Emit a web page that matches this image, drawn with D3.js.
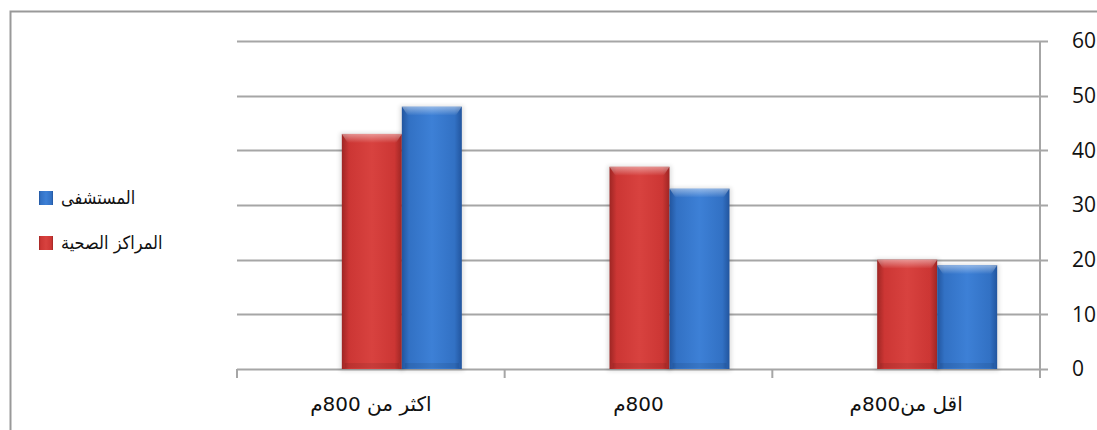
<!DOCTYPE html>
<html>
<head>
<meta charset="utf-8">
<script src="https://cdn.jsdelivr.net/npm/d3@7"></script>
<style>
  body { margin: 0; background: #fff; }
  svg { display: block; }
  .y-lbl { font-family: "Open Sans", "Liberation Sans", sans-serif; font-size: 21px; fill: #111; }
  .x-lbl { font-family: "DejaVu Sans", sans-serif; font-size: 20px; fill: #111; }
  .lg-lbl { font-family: "DejaVu Sans Condensed", "DejaVu Sans", sans-serif; font-size: 18px; fill: #111; }
</style>
</head>
<body>
<svg id="chart" width="1097" height="430"></svg>
<script>
// data
const categories = ["اكثر من 800م", "800م", "اقل من800م"];
const healthCenters = [43, 37, 20];   // المراكز الصحية (red)
const hospital = [48, 33, 19];        // المستشفى (blue)
const seriesNames = ["المراكز الصحية", "المستشفى"];
const yTicks = [0, 10, 20, 30, 40, 50, 60];

const svg = d3.select("#chart");

// all category labels read right to left
function catLabel(s){
    return "\u2067" + s + "\u2069";
}

// outer frame of the chart object
svg.append("rect")
    .attr("x", 10.5).attr("y", 11.5)
    .attr("width", 1100).attr("height", 430)
    .attr("fill", "none")
    .attr("stroke", "#999")
    .attr("stroke-width", 2);

const plot = {left: 237, right: 1040, top: 41, bottom: 369};

const x = d3.scaleBand()
    .domain(categories)
    .range([plot.left, plot.right])
    .padding(0);

const y = d3.scaleLinear()
    .domain([0, 60])
    .range([plot.bottom, plot.top]);

// gradients for the bevelled bars
let defs = svg.append("defs");
function barGradient(id, edge, mid, light){
    let g = defs.append("linearGradient").attr("id", id);
    g.append("stop").attr("offset", "0%").attr("stop-color", edge);
    g.append("stop").attr("offset", "12%").attr("stop-color", mid);
    g.append("stop").attr("offset", "50%").attr("stop-color", light);
    g.append("stop").attr("offset", "88%").attr("stop-color", mid);
    g.append("stop").attr("offset", "100%").attr("stop-color", edge);
}
barGradient("redGrad", "#9e2624", "#cc3634", "#d8423f");
barGradient("blueGrad", "#22559e", "#3271c4", "#3d80d6");

let topGrad = defs.append("linearGradient").attr("id", "topGrad")
    .attr("x1", 0).attr("y1", 0).attr("x2", 0).attr("y2", 1);
topGrad.append("stop").attr("offset", "0%").attr("stop-color", "#fff").attr("stop-opacity", 0.45);
topGrad.append("stop").attr("offset", "100%").attr("stop-color", "#fff").attr("stop-opacity", 0);

let shadow = defs.append("filter").attr("id", "shadow")
    .attr("x", "-20%").attr("y", "-10%").attr("width", "140%").attr("height", "120%");
shadow.append("feGaussianBlur").attr("stdDeviation", 2);

// gridlines
svg.append("g")
    .selectAll("line")
    .data(yTicks)
  .join("line")
    .attr("x1", plot.left)
    .attr("x2", plot.right + 8)
    .attr("y1", d => Math.round(y(d)) + 0.5)
    .attr("y2", d => Math.round(y(d)) + 0.5)
    .attr("stroke", "#a6a6a6")
    .attr("stroke-width", 2);

// y axis on the right
const yAxis = svg.append("g")
    .attr("transform", `translate(${plot.right},0)`)
    .call(d3.axisRight(y).tickValues(yTicks).tickSize(8).tickPadding(24));
yAxis.select(".domain").attr("stroke", "#a6a6a6").attr("stroke-width", 2)
    .attr("d", `M0,${plot.top}V${plot.bottom + 8}`);
yAxis.selectAll(".tick line").remove();
yAxis.selectAll("text").attr("class", "y-lbl").attr("fill", null).attr("font-size", null).attr("font-family", null);

// x axis
const xAxis = svg.append("g")
    .attr("transform", `translate(0,${plot.bottom})`)
    .call(d3.axisBottom(x).tickSize(0).tickPadding(28).tickFormat(catLabel));
xAxis.select(".domain").remove();
xAxis.selectAll("text").attr("class", "x-lbl").attr("direction", "rtl")
    .attr("fill", null).attr("font-size", null).attr("font-family", null);
svg.append("g")
    .selectAll("line")
    .data(categories.map(c => x(c)).concat([plot.right]))
  .join("line")
    .attr("x1", d => d).attr("x2", d => d)
    .attr("y1", plot.bottom).attr("y2", plot.bottom + 9)
    .attr("stroke", "#a6a6a6").attr("stroke-width", 2);

// bars (3-D style, shifted toward the back wall)
const barW = 60;
const depthShift = 31;
const barData = [];
categories.forEach((c, i) => {
    barData.push({cat: c, v: healthCenters[i], s: 0});
    barData.push({cat: c, v: hospital[i], s: 1});
});
const bx = d => x(d.cat) + x.bandwidth() / 2 + depthShift - barW + d.s * barW;

const bars = svg.append("g");
bars.selectAll("rect.shadow")
    .data(barData)
  .join("rect")
    .attr("class", "shadow")
    .attr("x", d => bx(d) - 2)
    .attr("y", d => y(d.v) - 1)
    .attr("width", barW + 4)
    .attr("height", d => y(0) - y(d.v) + 3)
    .attr("fill", "#000")
    .attr("opacity", 0.12)
    .attr("filter", "url(#shadow)");

bars.selectAll("rect.bar")
    .data(barData)
  .join("rect")
    .attr("class", "bar")
    .attr("x", d => bx(d))
    .attr("y", d => y(d.v))
    .attr("width", barW)
    .attr("height", d => y(0) - y(d.v))
    .attr("fill", d => d.s == 0 ? "url(#redGrad)" : "url(#blueGrad)");

// top bevel highlight
bars.selectAll("path.bevel")
    .data(barData)
  .join("path")
    .attr("class", "bevel")
    .attr("d", d => {
        let x0 = bx(d), y0 = y(d.v);
        return `M${x0},${y0}H${x0 + barW}L${x0 + barW - 6},${y0 + 9}H${x0 + 6}Z`;
    })
    .attr("fill", "url(#topGrad)");
// bottom darker strip
bars.selectAll("rect.base")
    .data(barData)
  .join("rect")
    .attr("class", "base")
    .attr("x", d => bx(d) + 3)
    .attr("y", y(0) - 6)
    .attr("width", barW - 6)
    .attr("height", 5)
    .attr("fill", "#000")
    .attr("opacity", 0.08);

// legend
const legendItems = [
    {name: seriesNames[1], fill: "url(#blueGrad)", y: 198},
    {name: seriesNames[0], fill: "url(#redGrad)", y: 243}
];
const lg = svg.append("g").selectAll("g")
    .data(legendItems)
  .join("g")
    .attr("transform", d => `translate(39,${d.y})`);
lg.append("rect")
    .attr("x", 0).attr("y", -7)
    .attr("width", 14).attr("height", 14)
    .attr("fill", d => d.fill);
lg.append("text")
    .attr("class", "lg-lbl")
    .attr("x", 22)
    .attr("dy", "0.35em")
    .attr("text-anchor", "start")
    .text(d => d.name);
</script>
</body>
</html>
